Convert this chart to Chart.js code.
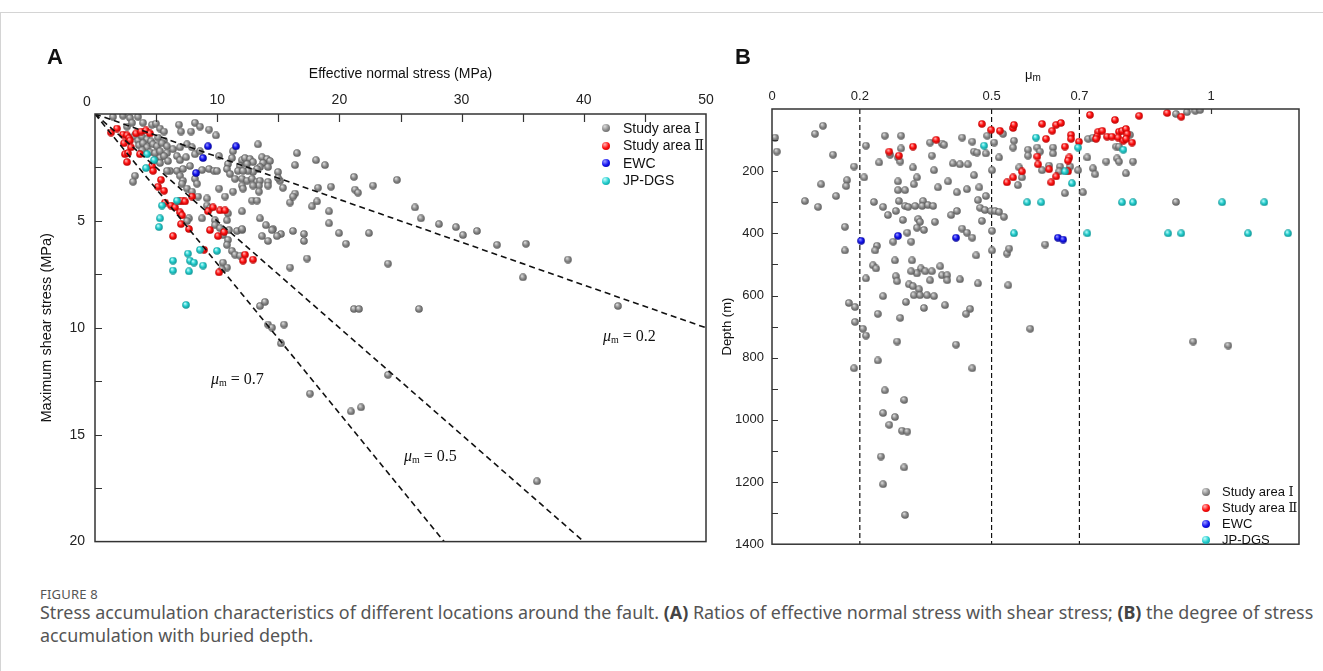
<!DOCTYPE html>
<html>
<head>
<meta charset="utf-8">
<script src="https://cdn.jsdelivr.net/npm/chart.js@4.4.1/dist/chart.umd.min.js"></script>
<style>
  html, body { margin: 0; padding: 0; background: #fff; }
  body { width: 1323px; height: 671px; position: relative; overflow: hidden;
         font-family: Arial, "Liberation Sans", sans-serif; color: #111; }
  .sheet { position: absolute; left: 0; top: 12px; width: 1323px; height: 659px;
           border-top: 1px solid #d4d4d4; border-left: 1px solid #d4d4d4; box-sizing: border-box; }
  #wrapA { position: absolute; left: 0; top: 0; width: 720px; height: 560px; }
  #wrapB { position: absolute; left: 720px; top: 0; width: 603px; height: 560px; }
  .panel { position: absolute; font-weight: bold; font-size: 22px; line-height: 1; color: #111; }
  .origin { position: absolute; font-size: 14px; line-height: 1; color: #222; }
  .eq { position: absolute; font-family: "Liberation Serif", "Times New Roman", serif; font-size: 16px;
        line-height: 1; white-space: nowrap; color: #111; }
  .eq i { font-style: italic; }
  .eq sub, .mu sub { font-size: 10px; position: relative; top: 2px; vertical-align: baseline; }
  .mu { position: absolute; font-size: 13px; line-height: 1; color: #111; }
  .legend { position: absolute; color: #111; }
  .legend .row { position: relative; white-space: nowrap; }
  .legend .dot { position: absolute; left: 0; width: 8px; height: 8px; border-radius: 50%; }
  .num { font-family: "DejaVu Serif", "Liberation Serif", serif; font-size: 1em; }
  #legA { left: 602px; top: 119.5px; font-size: 14px; }
  #legA .row { height: 17.5px; line-height: 17.5px; padding-left: 21px; }
  #legA .dot { top: 4.75px; }
  #legB { left: 1202px; top: 483.6px; font-size: 13px; }
  #legB .row { height: 16.1px; line-height: 16.1px; padding-left: 20px; }
  #legB .dot { top: 4.05px; }
  .figno { position: absolute; left: 40px; top: 585px; font-size: 13px; color: #555; letter-spacing: 0.2px;
           font-family: "Noto Sans", "Open Sans", sans-serif; }
  .caption { position: absolute; left: 40px; top: 601px; width: 1283px; font-size: 17.9px; line-height: 23px;
             color: #555; font-family: "Noto Sans", "Open Sans", sans-serif; }
  .caption b { color: #444; }
</style>
</head>
<body>
<div class="sheet"></div>
<div id="wrapA"><canvas id="chartA" width="720" height="560"></canvas></div>
<div id="wrapB"><canvas id="chartB" width="603" height="560"></canvas></div>

<div class="panel" style="left:47px; top:46px;">A</div>
<div class="panel" style="left:735px; top:46px;">B</div>
<div class="origin" style="left:83px; top:94px;">0</div>
<div class="mu" style="left:1025px; top:68px;">μ<sub>m</sub></div>

<div class="eq" style="left:211px; top:371px;"><i>μ</i><sub>m</sub> = 0.7</div>
<div class="eq" style="left:404px; top:448px;"><i>μ</i><sub>m</sub> = 0.5</div>
<div class="eq" style="left:603px; top:328px;"><i>μ</i><sub>m</sub> = 0.2</div>

<div class="legend" id="legA">
  <div class="row"><span class="dot gray"></span>Study area <span class="num">Ⅰ</span></div>
  <div class="row"><span class="dot red"></span>Study area <span class="num">Ⅱ</span></div>
  <div class="row"><span class="dot blue"></span>EWC</div>
  <div class="row"><span class="dot cyan"></span>JP-DGS</div>
</div>
<div class="legend" id="legB">
  <div class="row"><span class="dot gray"></span>Study area <span class="num">Ⅰ</span></div>
  <div class="row"><span class="dot red"></span>Study area <span class="num">Ⅱ</span></div>
  <div class="row"><span class="dot blue"></span>EWC</div>
  <div class="row"><span class="dot cyan"></span>JP-DGS</div>
</div>

<div class="figno">FIGURE 8</div>
<div class="caption">Stress accumulation characteristics of different locations around the fault. <b>(A)</b> Ratios of effective normal stress with shear stress; <b>(B)</b> the degree of stress accumulation with buried depth.</div>

<script>
// ---------- Panel A: effective normal stress (MPa) vs maximum shear stress (MPa) ----------
const studyAreaI_A = [
  [1.47,0.13],[2.29,0.08],[2.86,0.18],[3.52,0.13],[3.93,0.41],[4.66,0.50],[4.99,0.45],[5.32,0.68],[5.65,0.82],
  [6.87,0.50],[7.04,0.82],[7.86,0.82],[8.18,0.41],[8.59,0.59],[9.33,0.73],[9.90,1.00],[2.62,0.59],[3.03,0.41],
  [3.19,1.05],[3.52,1.24],[3.85,1.05],[4.26,1.19],[4.58,1.28],[5.16,1.10],[5.65,1.24],[3.60,1.47],[3.93,1.37],
  [4.26,1.56],[4.75,1.42],[5.07,1.51],[5.48,1.37],[5.89,1.51],[3.85,1.70],[4.50,1.79],[4.91,1.83],[5.32,1.74],
  [5.89,1.83],[6.38,1.65],[6.96,1.56],[7.53,1.42],[7.94,1.56],[5.32,2.06],[5.65,1.97],[5.97,2.20],[6.71,1.97],
  [6.96,2.16],[7.45,2.02],[8.18,1.88],[8.59,1.74],[4.91,2.16],[5.32,2.29],[6.14,2.66],[6.71,2.66],[7.20,2.57],
  [7.77,2.43],[8.76,2.62],[9.33,2.57],[9.74,2.66],[5.89,2.66],[3.27,2.89],[3.11,3.17],[6.96,2.89],[7.20,3.12],
  [8.18,3.03],[7.12,3.26],[7.53,3.49],[8.35,3.26],[7.94,3.63],[10.15,3.49],[10.64,3.86],[11.29,3.63],[8.43,3.86],
  [9.17,3.95],[8.76,4.88],[9.17,4.28],[9.41,4.42],[7.69,4.88],[7.53,5.01],[9.82,4.97],[9.82,5.20],[10.23,5.34],
  [10.47,5.66],[10.88,5.89],[10.80,6.12],[10.97,5.43],[11.62,5.47],[12.03,5.43],[11.21,6.40],[11.46,6.58],
  [11.87,6.63],[10.47,6.95],[10.80,7.18],[10.39,7.27],
  [11.29,1.74],[10.15,1.97],[9.98,2.66],[11.21,2.06],[10.88,2.34],[10.80,2.57],[12.03,2.16],[12.27,2.06],
  [12.68,2.11],[12.93,2.25],[12.44,2.34],[11.87,2.43],[11.70,2.66],[13.67,2.02],[14.08,2.11],[14.32,2.20],
  [13.75,2.29],[13.50,2.48],[14.16,2.48],[13.26,2.57],[12.93,2.71],[12.52,2.66],[12.11,2.66],[11.05,2.80],
  [11.46,3.03],[12.03,3.03],[12.44,3.12],[12.85,3.03],[13.26,3.17],[13.50,3.12],[14.16,3.17],[14.16,3.35],
  [13.42,3.35],[12.93,3.35],[12.03,3.35],[13.34,1.42],[16.53,1.83],[16.37,2.39],[18.09,2.16],[18.82,2.39],
  [14.98,2.71],[15.14,3.12],[15.38,3.45],[14.98,2.99],[12.11,3.49],[13.42,3.63],[12.85,4.05],[13.26,4.05],
  [16.37,3.72],[15.96,4.14],[17.76,4.32],[18.17,4.09],[18.25,3.45],[19.31,3.40],[12.03,4.55],[10.88,4.65],
  [13.50,4.88],[13.99,5.20],[14.57,5.38],[15.22,5.61],[16.20,5.47],[17.10,5.61],[12.03,5.38],[19.15,4.55],
  [19.15,5.11],[10.80,4.97],
  [21.19,2.94],[24.71,3.08],[21.28,3.54],[21.52,3.68],[22.75,3.35],[19.97,5.57],[22.42,5.57],[20.54,6.07],
  [17.10,5.94],[17.35,6.76],[23.98,7.00],[26.19,4.37],[26.68,4.88],[28.15,5.15],[29.54,5.29],[30.11,5.66],
  [31.26,5.47],[32.90,6.12],[35.27,6.07],[38.71,6.81],[35.02,7.64],[42.80,8.98],[13.50,8.98],[13.91,8.79],
  [14.16,9.85],[14.48,9.99],[15.47,9.85],[15.22,10.73],[23.98,12.20],[17.59,13.08],[20.95,13.91],[21.77,13.72],
  [21.19,9.12],[21.60,9.12],[26.51,9.12],[36.17,17.18],[13.67,5.71],[14.16,5.94],[14.89,5.71],[14.48,5.43],
  [15.96,7.18],[16.20,3.86]
];
const studyAreaII_A = [
  [1.31,0.87],[1.80,0.68],[2.29,0.96],[2.62,1.00],[2.78,1.14],[2.86,1.24],[2.37,1.37],[2.95,1.56],[2.45,1.88],
  [2.70,1.83],[2.62,2.25],[3.36,0.91],[3.76,0.82],[4.17,0.77],[4.50,0.91],[3.68,1.88],[4.66,2.43],[4.75,2.66],
  [5.40,3.08],[5.16,3.40],[5.65,3.59],[5.73,4.14],[6.22,4.28],[6.55,4.37],[6.87,4.09],[7.12,4.05],[7.36,4.09],
  [7.94,3.86],[6.96,4.60],[7.12,4.74],[7.04,5.15],[7.69,5.38],[9.25,4.55],[9.66,4.37],[10.23,4.51],[10.64,4.51],
  [9.41,5.43],[10.07,5.71],[10.56,5.52],[6.38,5.71],[8.92,6.35],[12.27,6.58],[12.11,6.86],[12.93,6.81],[10.15,7.41]
];
const ewc_A = [[9.25,1.51],[11.54,1.51],[8.84,2.06],[8.27,2.76]];
const jpdgs_A = [
  [4.26,1.88],[4.83,2.16],[4.17,2.53],[5.48,4.28],[6.71,4.05],[5.32,4.88],[5.24,5.29],[7.61,6.53],[8.59,6.35],
  [9.98,6.40],[6.38,6.86],[7.77,6.86],[8.10,6.95],[8.84,7.09],[6.38,7.32],[7.69,7.36],[7.45,8.93]
];
// friction coefficients of the reference lines tau = mu * sigma
const frictionCoefs = [0.2, 0.5, 0.7];
const stressTicksX = [5, 10, 15, 20, 25, 30, 35, 40, 45];
const stressTicksY = [2.5, 5, 7.5, 10, 12.5, 15, 17.5];

// ---------- Panel B: mu_m vs depth (m) ----------
const studyAreaI_B = [
  [0.007,92],[0.011,137],[0.098,80],[0.116,54],[0.139,147],[0.187,185],[0.171,229],[0.169,248],[0.112,242],
  [0.075,296],[0.105,315],[0.146,280],[0.166,379],[0.166,455],[0.210,220],[0.214,118],[0.175,624],[0.189,637],
  [0.189,685],[0.207,707],[0.214,729],[0.187,834],[0.214,545],[0.241,659],[0.241,809],[0.257,86],[0.294,86],
  [0.294,127],[0.269,147],[0.287,156],[0.292,169],[0.244,172],[0.321,188],[0.330,220],[0.360,108],[0.387,111],
  [0.392,115],[0.364,150],[0.369,197],[0.287,233],[0.287,261],[0.303,261],[0.323,242],[0.378,252],[0.401,233],
  [0.412,175],[0.428,178],[0.446,178],[0.433,92],[0.456,105],[0.490,86],[0.460,137],[0.467,140],[0.487,143],
  [0.501,197],[0.517,156],[0.506,108],[0.460,213],[0.421,268],[0.444,258],[0.472,252],[0.487,280],[0.469,293],
  [0.474,318],[0.485,325],[0.499,328],[0.508,328],[0.517,331],[0.478,360],[0.232,299],[0.253,315],[0.264,341],
  [0.282,328],[0.289,296],[0.303,312],[0.310,315],[0.326,312],[0.344,296],[0.342,312],[0.355,309],[0.367,312],
  [0.298,357],[0.333,354],[0.337,363],[0.371,363],[0.408,341],[0.421,328],[0.330,382],[0.346,389],[0.308,398],
  [0.433,385],[0.444,398],[0.456,414],[0.501,392],[0.317,427],[0.276,427],[0.239,440],[0.235,455],[0.501,455],
  [0.280,487],[0.230,503],[0.237,513],[0.282,538],[0.319,487],[0.339,513],[0.330,529],[0.317,522],[0.349,522],
  [0.364,522],[0.383,506],[0.387,535],[0.399,535],[0.465,471],[0.535,465],[0.540,449],[0.285,554],[0.312,564],
  [0.321,570],[0.335,580],[0.323,599],[0.337,599],[0.353,599],[0.369,602],[0.360,551],[0.399,551],[0.428,548],
  [0.469,561],[0.538,567],[0.253,602],[0.305,621],[0.346,640],[0.394,631],[0.451,643],[0.442,659],[0.292,672],
  [0.285,748],[0.419,758],[0.588,707],[0.456,834],[0.257,905],[0.301,936],[0.253,978],[0.280,991],[0.267,1016],
  [0.296,1035],[0.308,1038],[0.248,1118],[0.301,1153],[0.253,1207],[0.303,1306],[0.959,748],[1.039,761],
  [0.526,80],[0.551,102],[0.549,124],[0.583,131],[0.583,150],[0.604,124],[0.610,137],[0.640,124],[0.640,143],
  [0.615,197],[0.631,182],[0.656,185],[0.654,201],[0.679,185],[0.697,197],[0.563,188],[0.569,220],[0.560,245],
  [0.667,271],[0.708,268],[0.720,96],[0.731,92],[0.718,156],[0.731,191],[0.736,210],[0.761,169],[0.784,121],
  [0.790,121],[0.786,159],[0.790,169],[0.822,169],[0.806,207],[0.815,83],[0.920,16],[0.945,10],[0.964,6],
  [0.975,3],[0.920,299],[0.622,436],[0.528,347]
];
const studyAreaII_B = [
  [0.267,137],[0.289,150],[0.321,121],[0.374,99],[0.478,48],[0.499,67],[0.519,70],[0.549,61],[0.551,51],
  [0.615,48],[0.638,70],[0.647,51],[0.658,45],[0.624,96],[0.681,83],[0.681,96],[0.699,105],[0.724,19],
  [0.781,35],[0.836,22],[0.900,13],[0.932,25],[0.667,121],[0.604,153],[0.606,178],[0.677,156],[0.674,166],
  [0.631,194],[0.569,201],[0.674,201],[0.647,217],[0.636,236],[0.535,236],[0.549,220],[0.743,73],[0.752,70],
  [0.740,89],[0.738,96],[0.763,89],[0.774,89],[0.790,73],[0.797,70],[0.806,64],[0.809,80],[0.788,92],
  [0.800,102],[0.806,96],[0.820,108]
];
const ewc_B = [[0.203,424],[0.287,408],[0.419,414],[0.651,414],[0.663,420]];
const jpdgs_B = [
  [0.483,118],[0.601,92],[0.697,124],[0.800,131],[0.667,201],[0.683,239],[0.581,300],[0.613,300],[0.797,300],
  [0.822,300],[1.025,300],[1.121,300],[0.551,400],[0.718,400],[0.902,400],[0.932,400],[1.084,400],[1.175,400]
];
const muGuides = [0.2, 0.5, 0.7];
const muTicks = [0, 0.2, 0.5, 0.7, 1];
const depthTicks = [100, 200, 300, 400, 500, 600, 700, 800, 900, 1000, 1100, 1200, 1300];

// ---------- shared styling ----------
const FONT = 'Arial, "Liberation Sans", sans-serif';
const palette = {
  gray: ['#dcdcdc', '#8c8c8c', '#555555'],
  red:  ['#ffb4b4', '#ff1010', '#b00000'],
  blue: ['#9a9aff', '#1414f0', '#00008c'],
  cyan: ['#c4ffff', '#22cccc', '#0d8c8c']
};

// shaded sphere sprite used as the point marker
function sphere([light, base, dark], d) {
  const c = document.createElement('canvas');
  c.width = c.height = d;
  const g = c.getContext('2d');
  const r = d / 2;
  const grad = g.createRadialGradient(r * 0.72, r * 0.62, r * 0.08, r, r, r);
  grad.addColorStop(0, light);
  grad.addColorStop(0.5, base);
  grad.addColorStop(1, dark);
  g.fillStyle = grad;
  g.beginPath();
  g.arc(r, r, r - 0.2, 0, Math.PI * 2);
  g.fill();
  return c;
}
const sprites = {};
for (const k of Object.keys(palette)) sprites[k] = sphere(palette[k], 8);

// legend swatches use the same shading
document.querySelectorAll('.dot').forEach(el => {
  const k = [...el.classList].find(c => palette[c]);
  const [light, base, dark] = palette[k];
  el.style.background = `radial-gradient(circle at 36% 31%, ${light} 0%, ${base} 50%, ${dark} 100%)`;
});

const xy = arr => arr.map(([x, y]) => ({ x, y }));

function pointSet(label, arr, key, order) {
  return { type: 'scatter', label, data: xy(arr), pointStyle: sprites[key], pointRadius: 4,
           pointHoverRadius: 4, order, showLine: false };
}

// box frame plus inward tick marks
const framePlugin = {
  id: 'frame',
  afterDraw(chart, args, opts) {
    const { ctx, chartArea: a, scales } = chart;
    ctx.save();
    ctx.strokeStyle = '#333';
    ctx.lineWidth = 1.5;
    ctx.strokeRect(a.left, a.top, a.right - a.left, a.bottom - a.top);
    ctx.lineWidth = 1.2;
    ctx.beginPath();
    for (const v of opts.xTicks) {
      const p = Math.round(scales.x.getPixelForValue(v)) + 0.5;
      ctx.moveTo(p, a.top); ctx.lineTo(p, a.top + opts.lenX);
    }
    for (const v of opts.yTicks) {
      const p = Math.round(scales.y.getPixelForValue(v)) + 0.5;
      ctx.moveTo(a.left, p); ctx.lineTo(a.left + opts.lenY, p);
    }
    ctx.stroke();
    ctx.restore();
  }
};

const baseOptions = {
  responsive: false,
  animation: false,
  events: [],
  plugins: { legend: { display: false }, tooltip: { enabled: false } }
};

// ---------- chart A ----------
const lineSetsA = frictionCoefs.map(mu => {
  const sEnd = Math.min(50, 20 / mu);
  return { type: 'line', label: 'mu=' + mu, data: [{ x: 0, y: 0 }, { x: sEnd, y: mu * sEnd }],
           borderColor: '#111', borderWidth: 1.6, borderDash: [6, 4], pointRadius: 0, fill: false, order: 0 };
});

new Chart(document.getElementById('chartA'), {
  type: 'scatter',
  data: {
    datasets: [
      ...lineSetsA,
      pointSet('EWC', ewc_A, 'blue', 1),
      pointSet('JP-DGS', jpdgs_A, 'cyan', 2),
      pointSet('Study area Ⅱ', studyAreaII_A, 'red', 3),
      pointSet('Study area Ⅰ', studyAreaI_A, 'gray', 4)
    ]
  },
  options: {
    ...baseOptions,
    layout: { padding: { left: 0, top: 0, right: 14, bottom: 12 } },
    scales: {
      x: {
        type: 'linear', position: 'top', min: 0, max: 50,
        ticks: { stepSize: 10, padding: 5, color: '#222', font: { family: FONT, size: 14 },
                 callback: v => (v === 0 ? '' : String(v)) },
        grid: { display: false, drawTicks: false }, border: { display: false },
        title: { display: true, text: 'Effective normal stress (MPa)', color: '#111',
                 font: { family: FONT, size: 14 }, padding: { top: 66, bottom: 0 } },
        afterFit: s => { s.height = 114; }
      },
      y: {
        type: 'linear', reverse: true, min: 0, max: 20,
        ticks: { stepSize: 5, padding: 10, color: '#222', font: { family: FONT, size: 14 },
                 callback: v => (v === 0 ? '' : String(v)) },
        grid: { display: false, drawTicks: false }, border: { display: false },
        title: { display: true, text: 'Maximum shear stress (MPa)', color: '#111',
                 font: { family: FONT, size: 14.5 }, padding: { top: 38, bottom: 0 } },
        afterFit: s => { s.width = 95; }
      }
    },
    plugins: { ...baseOptions.plugins, frame: { xTicks: stressTicksX, yTicks: stressTicksY, lenX: 8, lenY: 7 } }
  },
  plugins: [framePlugin]
});

// ---------- chart B ----------
const guideSetsB = muGuides.map(mu => ({
  type: 'line', label: 'guide ' + mu, data: [{ x: mu, y: 0 }, { x: mu, y: 1400 }],
  borderColor: '#111', borderWidth: 1.2, borderDash: [5, 3], pointRadius: 0, fill: false, order: 9
}));

new Chart(document.getElementById('chartB'), {
  type: 'scatter',
  data: {
    datasets: [
      ...guideSetsB,
      pointSet('EWC', ewc_B, 'blue', 1),
      pointSet('JP-DGS', jpdgs_B, 'cyan', 2),
      pointSet('Study area Ⅱ', studyAreaII_B, 'red', 3),
      pointSet('Study area Ⅰ', studyAreaI_B, 'gray', 4)
    ]
  },
  options: {
    ...baseOptions,
    layout: { padding: { left: 0, top: 0, right: 24, bottom: 12 } },
    scales: {
      x: {
        type: 'linear', position: 'top', min: 0, max: 1.2,
        afterBuildTicks: s => { s.ticks = muTicks.map(v => ({ value: v })); },
        ticks: { padding: 5, color: '#222', font: { family: FONT, size: 13 }, callback: v => String(v) },
        grid: { display: false, drawTicks: false }, border: { display: false },
        afterFit: s => { s.height = 109; }
      },
      y: {
        type: 'linear', reverse: true, min: 0, max: 1400,
        ticks: { stepSize: 200, padding: 8, color: '#222', font: { family: FONT, size: 13 },
                 callback: v => (v === 0 ? '' : String(v)) },
        grid: { display: false, drawTicks: false }, border: { display: false },
        title: { display: true, text: 'Depth (m)', color: '#111',
                 font: { family: FONT, size: 13 }, padding: { top: 0, bottom: 0 } },
        afterFit: s => { s.width = 52; }
      }
    },
    plugins: { ...baseOptions.plugins, frame: { xTicks: [1], yTicks: depthTicks, lenX: 5, lenY: 6 } }
  },
  plugins: [framePlugin]
});
</script>
</body>
</html>
